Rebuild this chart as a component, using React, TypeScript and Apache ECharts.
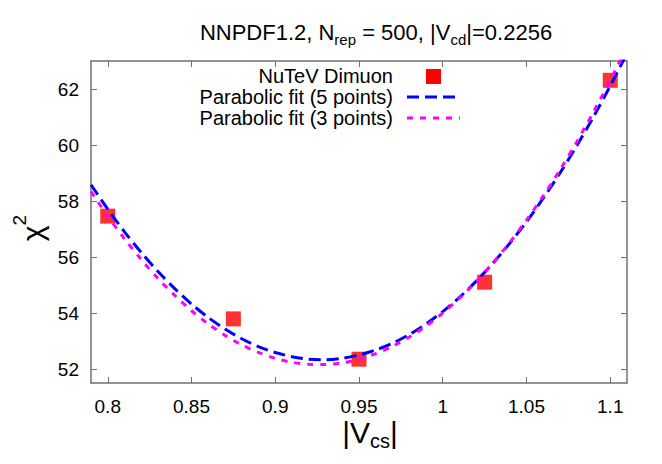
import React, { useEffect, useRef } from 'react';
import * as echarts from 'echarts';

const pointsX = [0.8, 0.875, 0.95, 1.025, 1.1];
const pointsY = [57.46, 53.79, 52.35, 55.1, 62.31];

const curveX = [
  0.79, 0.8, 0.81, 0.82, 0.83, 0.84, 0.85, 0.86, 0.87, 0.88, 0.89, 0.9, 0.91, 0.92, 0.93, 0.94,
  0.95, 0.96, 0.97, 0.98, 0.99, 1.0, 1.01, 1.02, 1.03, 1.04, 1.05, 1.06, 1.07, 1.08, 1.09, 1.1, 1.11,
];
const fit5Y = [
  58.58, 57.71, 56.9, 56.16, 55.48, 54.87, 54.32, 53.84, 53.43, 53.08, 52.8, 52.59, 52.44, 52.35, 52.33, 52.38,
  52.5, 52.68, 52.92, 53.23, 53.61, 54.05, 54.56, 55.14, 55.78, 56.49, 57.26, 58.1, 59.0, 59.97, 61.01, 62.11, 63.28,
];
const fit3Y = [
  58.34, 57.46, 56.65, 55.91, 55.23, 54.63, 54.08, 53.61, 53.2, 52.86, 52.59, 52.38, 52.24, 52.17, 52.16, 52.22,
  52.35, 52.55, 52.81, 53.14, 53.53, 54.0, 54.53, 55.12, 55.79, 56.52, 57.32, 58.18, 59.11, 60.11, 61.18, 62.31, 63.51,
];

const xTicks = [0.8, 0.85, 0.9, 0.95, 1, 1.05, 1.1];
const yTicks = [52, 54, 56, 58, 60, 62];
const legendNames = ['NuTeV Dimuon', 'Parabolic fit (5 points)', 'Parabolic fit (3 points)'];

const FAMILY = '"Liberation Sans", Arial, Helvetica, sans-serif';
const AXIS_COLOR = '#707070';

let measureCtx: CanvasRenderingContext2D | null = null;
function textWidth(t: string, size: number): number {
  if (!measureCtx) measureCtx = document.createElement('canvas').getContext('2d');
  measureCtx!.font = `${size}px ${FAMILY}`;
  return measureCtx!.measureText(t).width;
}

type Part = { t: string; size: number; dy: number };
function composite(parts: Part[], cx: number, cy: number): any[] {
  const widths = parts.map((p) => textWidth(p.t, p.size));
  const total = widths.reduce((a, b) => a + b, 0);
  let x = cx - total / 2;
  return parts.map((p, i) => {
    const el = {
      type: 'text',
      x,
      y: cy + p.dy,
      style: {
        text: p.t,
        fontSize: p.size,
        fontFamily: FAMILY,
        fill: '#000',
        align: 'left',
        verticalAlign: 'middle',
      },
    };
    x += widths[i];
    return el;
  });
}

export default function App() {
  const ref = useRef<HTMLDivElement>(null);
  useEffect(() => {
    if (!ref.current) return;
    const chart = echarts.init(ref.current, null, { renderer: 'svg' });

    const xAxisBase = {
      type: 'value',
      min: 0.79,
      max: 1.11,
      splitLine: { show: false },
      axisLine: { show: true, onZero: false, lineStyle: { color: AXIS_COLOR, width: 1.5 } },
      axisTick: { show: true, inside: true, length: 6, customValues: xTicks, lineStyle: { color: AXIS_COLOR, width: 1 } },
    };
    const yAxisBase = {
      type: 'value',
      min: 51.5,
      max: 63,
      splitLine: { show: false },
      axisLine: { show: true, onZero: false, lineStyle: { color: AXIS_COLOR, width: 1.5 } },
      axisTick: { show: true, inside: true, length: 6, customValues: yTicks, lineStyle: { color: AXIS_COLOR, width: 1 } },
    };

    const legendY = [76, 97, 118];
    const legendTextRight = 393;
    const graphics: any[] = [
      ...composite(
        [
          { t: 'NNPDF1.2, N', size: 22, dy: 0 },
          { t: 'rep', size: 15, dy: 7 },
          { t: ' = 500, |V', size: 22, dy: 0 },
          { t: 'cd', size: 15, dy: 7 },
          { t: '|=0.2256', size: 22, dy: 0 },
        ],
        376,
        32
      ),
      ...composite(
        [
          { t: '|V', size: 30, dy: 0 },
          { t: 'cs', size: 20, dy: 9 },
          { t: '|', size: 30, dy: 0 },
        ],
        370,
        432
      ),
      {
        type: 'group',
        x: 32,
        y: 228,
        rotation: Math.PI / 2,
        children: composite(
          [
            { t: 'χ', size: 30, dy: 0 },
            { t: '2', size: 19, dy: -13 },
          ],
          0,
          0
        ),
      },
      ...legendNames.map((name, i) => ({
        type: 'text',
        x: legendTextRight,
        y: legendY[i],
        style: {
          text: name,
          fontSize: 20,
          fontFamily: FAMILY,
          fill: '#000',
          align: 'right',
          verticalAlign: 'middle',
        },
      })),
      {
        type: 'rect',
        shape: { x: 426, y: legendY[0] - 7, width: 15, height: 15 },
        style: { fill: '#ff0000' },
      },
      {
        type: 'line',
        shape: { x1: 407, y1: legendY[1], x2: 460, y2: legendY[1] },
        style: { stroke: '#0000ff', lineWidth: 3, lineDash: [12, 6] },
      },
      {
        type: 'line',
        shape: { x1: 407, y1: legendY[2], x2: 460, y2: legendY[2] },
        style: { stroke: '#ff00ff', lineWidth: 3, lineDash: [6, 7] },
      },
    ];

    chart.setOption({
      animation: false,
      backgroundColor: '#ffffff',
      grid: { left: 91, right: 35, top: 61, bottom: 81, containLabel: false, outerBoundsMode: 'none' },
      xAxis: [
        {
          ...xAxisBase,
          position: 'bottom',
          axisLabel: {
            show: true,
            customValues: xTicks,
            margin: 14,
            fontSize: 19,
            fontFamily: FAMILY,
            color: '#000',
            formatter: (v: number) => String(v),
          },
        },
        { ...xAxisBase, position: 'top', axisLabel: { show: false } },
      ],
      yAxis: [
        {
          ...yAxisBase,
          position: 'left',
          axisLabel: {
            show: true,
            customValues: yTicks,
            margin: 12,
            fontSize: 19,
            fontFamily: FAMILY,
            color: '#000',
            formatter: (v: number) => String(v),
          },
        },
        { ...yAxisBase, position: 'right', axisLabel: { show: false } },
      ],
      series: [
        {
          name: legendNames[0],
          type: 'scatter',
          data: pointsX.map((x, i) => [x, pointsY[i]]),
          symbol: 'rect',
          symbolSize: 15,
          itemStyle: { color: '#ff0000' },
          z: 1,
        },
        {
          name: legendNames[1],
          type: 'line',
          data: curveX.map((x, i) => [x, fit5Y[i]]),
          showSymbol: false,
          smooth: 0.3,
          clip: true,
          lineStyle: { color: '#0000ff', width: 3, type: [12, 6] },
          z: 2,
        },
        {
          name: legendNames[2],
          type: 'line',
          data: curveX.map((x, i) => [x, fit3Y[i]]),
          showSymbol: false,
          smooth: 0.3,
          clip: true,
          lineStyle: { color: '#ff00ff', width: 3, type: [6, 7] },
          z: 3,
        },
      ],
      graphic: graphics,
    });

    return () => chart.dispose();
  }, []);

  return (
    <div
      ref={ref}
      style={{ position: 'fixed', left: 0, top: 0, width: 662, height: 464 }}
    />
  );
}
